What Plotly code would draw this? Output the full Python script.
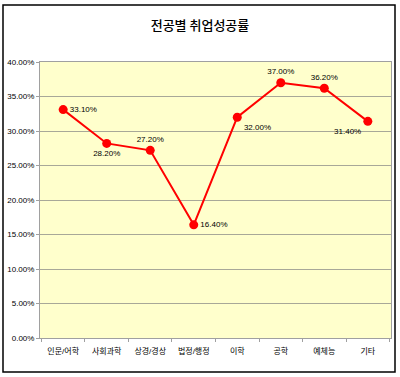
import plotly.graph_objects as go

categories = ["인문/어학", "사회과학", "상경/경상", "법정/행정", "이학", "공학", "예체능", "기타"]
values = [33.1, 28.2, 27.2, 16.4, 32.0, 37.0, 36.2, 31.4]
label_pos = ["middle right", "bottom center", "top center", "middle right",
             "bottom right", "top center", "top center", "bottom left"]
y_ticks = [0, 5, 10, 15, 20, 25, 30, 35, 40]
y_tick_text = [f"{v:.2f}%" for v in y_ticks]
title = "전공별 취업성공률"

FONT = "Liberation Sans, Noto Sans CJK KR"
TFONT = "Noto Sans CJK KR"

fig = go.Figure()
fig.add_trace(go.Scatter(
    x=categories, y=values, mode="lines+markers+text",
    line=dict(color="#FF0000", width=2),
    marker=dict(color="#FF0000", size=9, symbol="circle"),
    text=[f"{v:.2f}%" for v in values],
    textposition=label_pos,
    textfont=dict(family=FONT, size=8, color="#000000"),
    cliponaxis=False, showlegend=False, hoverinfo="skip",
))

fig.update_layout(
    width=400, height=377,
    margin=dict(l=40, r=9, t=62, b=39, autoexpand=False),
    paper_bgcolor="#FFFFFF", plot_bgcolor="#FFFFCC",
    title=dict(text=title, x=0.5, xanchor="center", y=0.933, yanchor="middle",
               font=dict(family=TFONT, size=13, color="#000000", weight=500)),
    xaxis=dict(type="category", showgrid=False, ticks="outside", tickson="boundaries",
               ticklen=3, tickcolor="#A0A0A0", showline=True, linecolor="#A0A0A0", mirror=True,
               tickangle=0, automargin=False, ticklabelstandoff=5,
               tickfont=dict(family=FONT, size=8, color="#000000")),
    yaxis=dict(range=[0, 40], tickvals=y_ticks, ticktext=y_tick_text,
               showgrid=True, gridcolor="#A8A898", gridwidth=1,
               ticks="outside", ticklen=3, tickcolor="#A0A0A0", automargin=False,
               showline=True, linecolor="#A0A0A0", mirror=True, zeroline=False,
               tickfont=dict(family=FONT, size=8, color="#000000")),
    shapes=[dict(type="rect", xref="paper", yref="paper",
                 x0=-37/351, x1=1 + 4/351, y0=-34/276, y1=1 + 57/276,
                 line=dict(color="#000000", width=1.5))],
)

fig.write_html("out.html", config={"displayModeBar": False},
               post_script="document.body.style.margin='0';document.body.style.overflow='hidden';")
